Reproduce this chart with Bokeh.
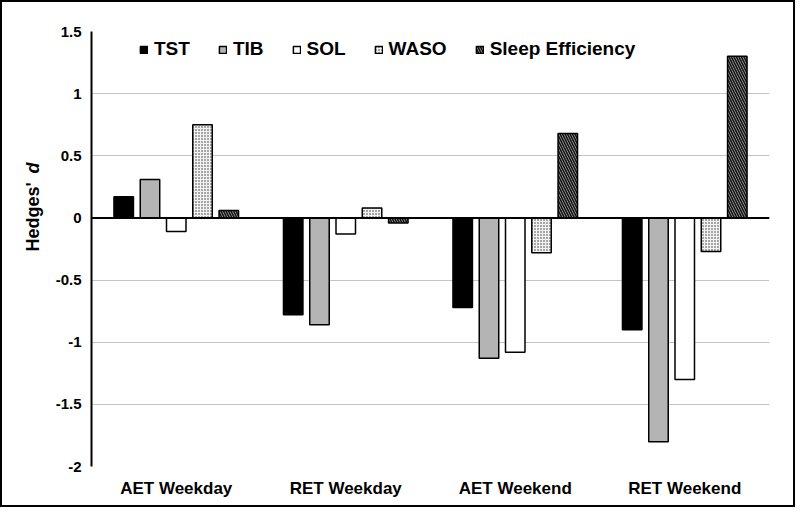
from bokeh.plotting import figure
from bokeh.models import ColumnDataSource, FactorRange, FixedTicker, Span
from bokeh.transform import dodge
from bokeh.layouts import row
from bokeh.core.properties import value
from bokeh.embed import file_html
from bokeh.resources import INLINE
import math

groups = ["AET Weekday", "RET Weekday", "AET Weekend", "RET Weekend"]
series = ["TST", "TIB", "SOL", "WASO", "Sleep Efficiency"]
tst = [0.17, -0.78, -0.72, -0.90]
tib = [0.31, -0.86, -1.13, -1.80]
sol = [-0.11, -0.13, -1.08, -1.30]
waso = [0.75, 0.08, -0.28, -0.27]
sleep_eff = [0.06, -0.04, 0.68, 1.30]
y_ticks = [-2, -1.5, -1, -0.5, 0, 0.5, 1, 1.5]
y_tick_labels = ["-2", "-1.5", "-1", "-0.5", "0", "0.5", "1", "1.5"]

FONT = "Liberation Sans"
Y_RANGE = (-2, 1.5)

src = ColumnDataSource(dict(g=groups, TST=tst, TIB=tib, SOL=sol, WASO=waso, SE=sleep_eff))

p = figure(x_range=FactorRange(factors=groups), y_range=Y_RANGE,
           frame_width=678, frame_height=435, output_backend="svg", toolbar_location=None,
           min_border_left=44, min_border_right=24, min_border_top=29, min_border_bottom=39)
p.outline_line_color = None
p.background_fill_color = "white"
p.border_fill_color = "white"

cols = ["TST", "TIB", "SOL", "WASO", "SE"]
offsets = [-0.31, -0.155, 0.0, 0.155, 0.31]
styles = [
    dict(fill_color="black"),
    dict(fill_color="#b4b4b4"),
    dict(fill_color="white"),
    dict(fill_color="#f2f2f2", hatch_pattern=".", hatch_color="#333333", hatch_scale=3, hatch_weight=1),
    dict(fill_color="#9a9a9a", hatch_pattern="\\", hatch_color="#111111", hatch_scale=5, hatch_weight=1.5),
]
for c, name, off, st in zip(cols, series, offsets, styles):
    p.vbar(x=dodge("g", off, range=p.x_range), top=c, bottom=0, width=0.115, source=src,
           line_color="black", line_width=1.5, legend_label=name, **st)

p.add_layout(Span(location=0, dimension="width", line_color="black", line_width=2))

p.xgrid.grid_line_color = None
p.ygrid.grid_line_color = "#c4c4c4"
p.ygrid.grid_line_width = 1
p.ygrid.ticker = FixedTicker(ticks=y_ticks)

p.yaxis.ticker = FixedTicker(ticks=y_ticks)
p.yaxis.major_label_overrides = dict(zip(y_ticks, y_tick_labels))
p.yaxis.axis_line_color = "black"
p.yaxis.axis_line_width = 2
p.yaxis.major_tick_line_color = None
p.yaxis.minor_tick_line_color = None
p.yaxis.major_tick_out = 0
p.yaxis.major_tick_in = 0
p.yaxis.major_label_standoff = 10
p.yaxis.major_label_text_font = FONT
p.yaxis.major_label_text_font_style = "bold"
p.yaxis.major_label_text_font_size = "15px"
p.yaxis.major_label_text_color = "black"

p.xaxis.axis_line_color = None
p.xaxis.major_tick_line_color = None
p.xaxis.major_tick_out = 0
p.xaxis.major_tick_in = 0
p.xaxis.major_label_standoff = 12
p.xaxis.major_label_text_font = FONT
p.xaxis.major_label_text_font_style = "bold"
p.xaxis.major_label_text_font_size = "17px"
p.xaxis.major_label_text_color = "black"

lg = p.legend[0]
lg.orientation = "horizontal"
lg.location = (48, 406)
lg.padding = 0
lg.margin = 0
lg.spacing = 28
lg.label_standoff = 6
lg.glyph_width = 9
lg.glyph_height = 9
lg.background_fill_alpha = 0
lg.border_line_color = None
lg.label_text_font = FONT
lg.label_text_font_style = "bold"
lg.label_text_font_size = "19px"
lg.label_text_color = "black"

# narrow strip on the left carrying the y-axis title "Hedges' d" (d in italics)
lf = figure(x_range=(0, 1), y_range=Y_RANGE, frame_width=45, frame_height=435,
            output_backend="svg", toolbar_location=None,
            x_axis_location=None, y_axis_location=None,
            min_border_left=0, min_border_right=0, min_border_top=29, min_border_bottom=39)
lf.outline_line_color = None
lf.xgrid.grid_line_color = None
lf.ygrid.grid_line_color = None
lf.border_fill_color = "white"
lf.text(x=[0.667], y=[-0.27], text=["Hedges'"], angle=math.pi / 2,
        text_align="left", text_baseline="middle", text_font=value(FONT),
        text_font_style="bold", text_font_size="18px", text_color="black")
lf.text(x=[0.667], y=[0.446], text=["d"], angle=math.pi / 2,
        text_align="right", text_baseline="middle", text_font=value(FONT),
        text_font_style="bold italic", text_font_size="18px", text_color="black")

layout = row(lf, p)
layout.styles = {"border": "2px solid black"}

open("out.html", "w").write(file_html(layout, INLINE))
